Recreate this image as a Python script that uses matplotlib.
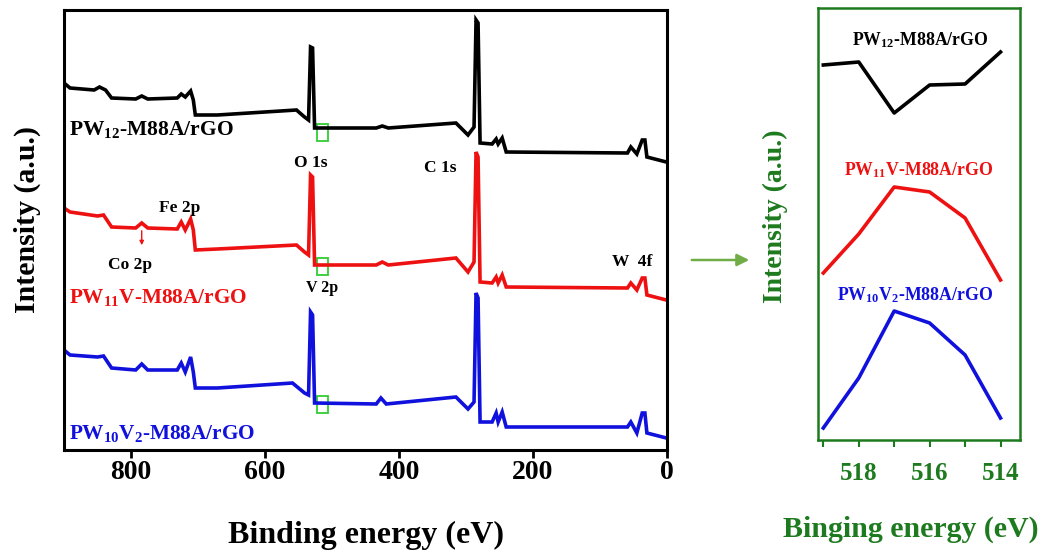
import matplotlib
matplotlib.use("Agg")
import matplotlib.pyplot as plt
from matplotlib.patches import Rectangle, FancyArrowPatch

plt.rcParams['font.family'] = ['Liberation Serif', 'DejaVu Serif']
plt.rcParams['font.weight'] = 'bold'
plt.rcParams['mathtext.fontset'] = 'custom'
plt.rcParams['mathtext.rm'] = 'Liberation Serif:bold'
plt.rcParams['mathtext.it'] = 'Liberation Serif:bold'
plt.rcParams['mathtext.bf'] = 'Liberation Serif:bold'

# ================== survey spectra (stacked offsets) ==================
e_black = [900, 891, 855, 847, 838, 829, 793, 784, 775, 731, 725, 719, 711, 707, 704, 671, 553, 541, 535,
           532, 529, 526, 434, 425, 416, 315, 297, 288, 285, 282, 279, 261, 255, 252, 246, 240, 59, 54, 45,
           37, 33, 30, 1]
i_black = [367, 362, 360, 363, 360, 352, 351, 354, 351, 352, 356, 353, 359, 350, 335, 335, 340, 333, 330,
           403, 402, 322, 322, 324, 322, 327, 315, 323, 430, 427, 307, 306, 311, 306, 312, 298, 297, 303, 296,
           310, 310, 293, 288]

e_red = [900, 891, 850, 841, 829, 793, 784, 775, 731, 725, 719, 711, 707, 704, 671, 553, 541, 535,
         532, 529, 526, 434, 425, 416, 315, 297, 288, 285, 282, 279, 261, 255, 252, 246, 240, 59, 54, 45,
         37, 33, 30, 1]
i_red = [242, 238, 234, 235, 223, 222, 227, 222, 221, 228, 220, 231, 220, 200, 201, 205, 198, 195,
         275, 273, 185, 185, 188, 185, 192, 178, 188, 298, 293, 168, 167, 173, 167, 175, 163, 162, 167, 160,
         172, 172, 155, 150]

e_blue = [900, 891, 850, 841, 829, 793, 784, 775, 731, 725, 719, 711, 707, 704, 671, 559, 541, 535,
          532, 529, 526, 434, 427, 419, 315, 297, 288, 285, 282, 279, 261, 255, 252, 246, 240, 59, 54, 45,
          37, 33, 30, 1]
i_blue = [100, 95, 93, 94, 82, 80, 86, 80, 80, 87, 78, 93, 78, 62, 62, 67, 57, 55,
          138, 135, 47, 46, 52, 46, 53, 41, 48, 157, 152, 28, 28, 37, 28, 38, 23, 23, 28, 17,
          37, 37, 17, 12]

# ================== V 2p zoom (514-519 eV) ==================
e_zoom = [519, 518, 517, 516, 515, 514]
z_black = [375, 378, 327, 355, 356, 388]
z_red = [167, 206, 253, 248, 222, 160]
z_blue = [12, 62, 129, 117, 85, 22]

survey_labels = ['PW$_{12}$-M88A/rGO', 'PW$_{11}$V-M88A/rGO', 'PW$_{10}$V$_{2}$-M88A/rGO']
colors = ['black', '#ee1111', '#1111dd']
green = '#1e7a1e'

fig = plt.figure(figsize=(10.43, 5.52), dpi=100)

# ---------- left: survey ----------
ax = fig.add_axes([64 / 1043, 102 / 552, 603 / 1043, 440 / 552])
for e, i, c in zip([e_black, e_red, e_blue], [i_black, i_red, i_blue], colors):
    ax.plot(e, i, color=c, lw=2.6, solid_joinstyle='miter')
ax.set_xlim(900, 0)
ax.set_ylim(0, 440)
ax.set_yticks([])
ax.set_xticks([800, 600, 400, 200, 0])
ax.tick_params(axis='x', direction='out', length=6, width=2, labelsize=20, pad=1)
for s in ax.spines.values():
    s.set_linewidth(2.2)
ax.set_xlabel('Binding energy (eV)', fontsize=23, fontweight='bold')
ax.xaxis.set_label_coords(0.5, -0.161)
ax.set_ylabel('Intensity (a.u.)', fontsize=21.5, fontweight='bold')
ax.yaxis.set_label_coords(-0.038, 0.523)

ax.text(893, 320, survey_labels[0], color='black', fontsize=15.5, va='center', ha='left')
ax.text(893, 153, survey_labels[1], color=colors[1], fontsize=15.3, va='center', ha='left')
ax.text(893, 16, survey_labels[2], color=colors[2], fontsize=15.3, va='center', ha='left')

ax.text(531, 287, 'O 1s', fontsize=12.5, ha='center', va='center')
ax.text(339, 282, 'C 1s', fontsize=12.5, ha='center', va='center')
ax.text(727, 242, 'Fe 2p', fontsize=12.5, ha='center', va='center')
ax.text(801, 185, 'Co 2p', fontsize=12.5, ha='center', va='center')
ax.text(515, 162, 'V 2p', fontsize=11.5, ha='center', va='center')
ax.text(52, 188, 'W  4f', fontsize=12.5, ha='center', va='center')
ax.annotate('', xy=(784, 202), xytext=(784, 222),
            arrowprops=dict(arrowstyle='-|>', color='#ee1111', lw=1, mutation_scale=6))

for yc in [318, 184, 46]:
    ax.add_patch(Rectangle((523, yc - 8.5), -16.4, 17, fill=False, ec='#33cc33', lw=1.3))

# ---------- arrow between panels ----------
fig.patches.append(FancyArrowPatch(
    (689 / 1043, 1 - 260 / 552), (752 / 1043, 1 - 260 / 552), transform=fig.transFigure,
    arrowstyle='-|>', mutation_scale=18, color='#70ad47', lw=1.8))

# ---------- right: V 2p region ----------
ax2 = fig.add_axes([818 / 1043, 112 / 552, 202 / 1043, 432 / 552])
for i, c in zip([z_black, z_red, z_blue], colors):
    ax2.plot(e_zoom, i, color=c, lw=2.6)
ax2.set_xlim(519.15, 513.45)
ax2.set_ylim(0, 432)
ax2.set_yticks([])
ax2.set_xticks([518, 516, 514])
ax2.set_xticks([519, 517, 515], minor=True)
ax2.tick_params(axis='x', which='both', direction='out', length=5, width=1.5, colors=green,
                labelsize=18, pad=11)
for s in ax2.spines.values():
    s.set_color(green)
    s.set_linewidth(1.8)
ax2.set_xlabel('Binging energy (eV)', fontsize=21.5, fontweight='bold', color=green)
ax2.xaxis.set_label_coords(0.46, -0.176)
ax2.set_ylabel('Intensity (a.u.)', fontsize=20, fontweight='bold', color=green)
ax2.yaxis.set_label_coords(-0.15, 0.518)

ax2.text(516.27, 400, survey_labels[0], color='black', fontsize=12.8, ha='center', va='center')
ax2.text(516.3, 270, survey_labels[1], color=colors[1], fontsize=12.8, ha='center', va='center')
ax2.text(516.4, 145, survey_labels[2], color=colors[2], fontsize=12.8, ha='center', va='center')

fig.savefig('out.png', dpi=100)
